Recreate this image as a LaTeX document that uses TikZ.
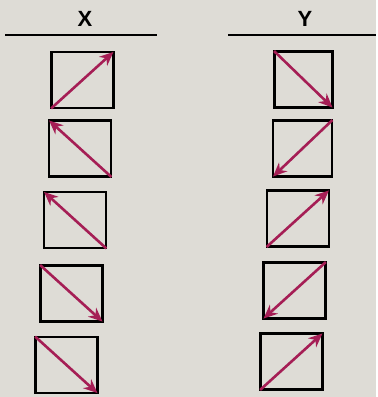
\documentclass[tikz,border=0pt]{standalone}
\usepackage{fontspec}
\setsansfont{Liberation Sans}
\usetikzlibrary{arrows.meta}
\definecolor{paper}{RGB}{222,220,214}
\definecolor{vecred}{RGB}{165,30,85}
\tikzset{
  cell/.style={draw=black, line width=2.2pt, minimum width=62pt,
    minimum height=56pt, inner sep=0pt},
  vec/.style={vecred, line width=2.6pt,
    -{Stealth[length=14pt,width=12pt]}, shorten >=1.5pt, shorten <=1pt},
  colhead/.style={font=\sffamily\bfseries\fontsize{22}{22}\selectfont},
  hline/.style={line width=2.6pt}
}
\begin{document}
\begin{tikzpicture}[x=1pt, y=-1pt]

  % Page
  \fill[paper] (0,0) rectangle (376,397);

  % === Column headings ===
  \node[colhead] (hx) at (85,19) {X};
  \node[colhead] (hy) at (305,19) {Y};
  \coordinate (lx0) at (5,35);
  \coordinate (lx1) at (157,35);
  \coordinate (ly0) at (228,35);
  \coordinate (ly1) at (376,35);
  \draw[hline] (lx0) -- (lx1);
  \draw[hline] (ly0) -- (ly1);

  % === X column ===
  \node[cell] (x1) at (82.5,80) {};
  \node[cell] (x2) at (80,148.5) {};
  \node[cell] (x3) at (75,220) {};
  \node[cell] (x4) at (71.5,293.5) {};
  \node[cell] (x5) at (66.5,365) {};
  \draw[vec] (x1.south west) -- (x1.north east);
  \draw[vec] (x2.south east) -- (x2.north west);
  \draw[vec] (x3.south east) -- (x3.north west);
  \draw[vec] (x4.north west) -- (x4.south east);
  \draw[vec] (x5.north west) -- (x5.south east);

  % === Y column ===
  \node[cell, minimum width=58pt] (y1) at (303.5,79.5) {};
  \node[cell, minimum width=59pt] (y2) at (302.5,148.5) {};
  \node[cell] (y3) at (298,218.5) {};
  \node[cell] (y4) at (294.5,290.5) {};
  \node[cell] (y5) at (291.5,361.5) {};
  \draw[vec] (y1.north west) -- (y1.south east);
  \draw[vec] (y2.north east) -- (y2.south west);
  \draw[vec] (y3.south west) -- (y3.north east);
  \draw[vec] (y4.north east) -- (y4.south west);
  \draw[vec] (y5.south west) -- (y5.north east);

\end{tikzpicture}
\end{document}
